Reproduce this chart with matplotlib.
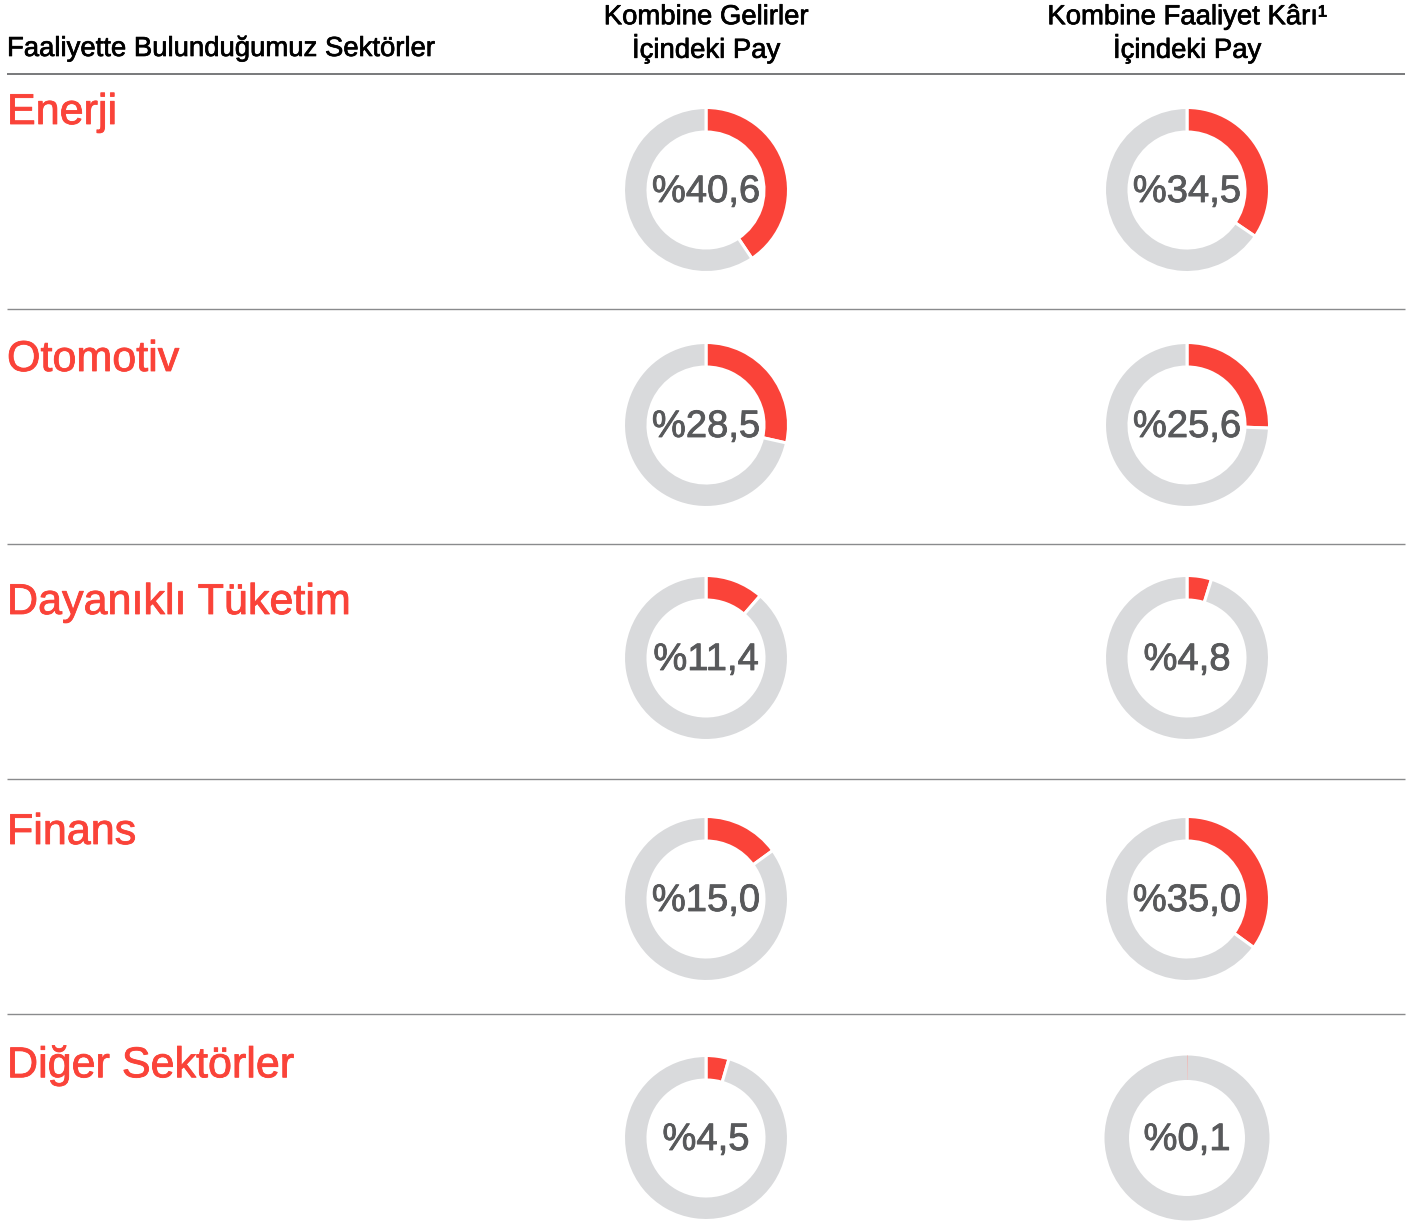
import matplotlib
matplotlib.use('Agg')
import matplotlib.pyplot as plt
import matplotlib.patheffects as pe

plt.rcParams['font.family'] = ['Liberation Sans', 'DejaVu Sans']

# Data
sectors = ['Enerji', 'Otomotiv', 'Dayanıklı Tüketim', 'Finans', 'Diğer Sektörler']
revenue_share = [40.6, 28.5, 11.4, 15.0, 4.5]
profit_share = [34.5, 25.6, 4.8, 35.0, 0.1]
col_headers = ['Kombine Gelirler\nİçindeki Pay', 'Kombine Faaliyet Kârı¹\nİçindeki Pay']
row_header = 'Faaliyette Bulunduğumuz Sektörler'

# Colours
RED = '#fa4339'
GRAY = '#d9dadc'
TXT = '#58595b'

W, H = 1408, 1221
fig = plt.figure(figsize=(W / 100, H / 100), dpi=100)
ax = fig.add_axes([0, 0, 1, 1])
ax.set_xlim(0, W)
ax.set_ylim(0, H)
ax.set_aspect('equal')
ax.axis('off')

def py(y):
    # pixel row (top down) -> axis y
    return H - y

def bold(c, w):
    return [pe.withStroke(linewidth=w, foreground=c)]

# layout
col_x = [706, 1187]
line_y = [74, 309, 544, 779, 1014]
donut_off = [116, 116, 114, 120, 124]
title_off = [39, 51, 59, 54, 52]
R, RING = 82.5, 24.5

# header
fig.text(7 / W, 1 - 49 / H, row_header, fontsize=19.8, color='black', va='center', ha='left',
         path_effects=bold('black', 0.5))
for x, t in zip(col_x, col_headers):
    fig.text(x / W, 1 - 34 / H, t, fontsize=19.8, color='black', va='center', ha='center',
             linespacing=1.15, path_effects=bold('black', 0.5))

for i, ly in enumerate(line_y):
    ax.plot([7, 1405], [py(ly), py(ly)], color='#6d6e71' if i == 0 else '#8a8b8d',
            lw=1.3 if i == 0 else 1.0, solid_capstyle='butt')

for i, name in enumerate(sectors):
    top = line_y[i]
    ax.text(7, py(top + title_off[i]), name, fontsize=31, color=RED, va='center', ha='left',
            path_effects=bold(RED, 0.6))
    cy = top + donut_off[i]
    for x, v in zip(col_x, [revenue_share[i], profit_share[i]]):
        # tiny shares get no separator so the ring stays whole
        ew = 2.2 if v >= 1 else 0
        ax.pie([v, 100 - v], colors=[RED, GRAY], startangle=90, counterclock=False,
               radius=R, center=(x, py(cy)),
               wedgeprops=dict(width=RING, edgecolor='white', linewidth=ew))
        lbl = '%' + f'{v:.1f}'.replace('.', ',')
        ax.text(x, py(cy + 2), lbl, fontsize=27.5, color=TXT, ha='center', va='center',
                path_effects=bold(TXT, 0.6))

ax.set_xlim(0, W)
ax.set_ylim(0, H)
fig.savefig('out.png', dpi=100, facecolor='white')
